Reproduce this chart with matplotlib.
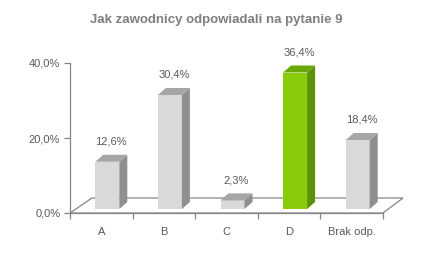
import matplotlib
matplotlib.use("Agg")
import matplotlib.pyplot as plt
from matplotlib.patches import Polygon

categories = ["A", "B", "C", "D", "Brak odp."]
values = [12.6, 30.4, 2.3, 36.4, 18.4]
value_labels = ["12,6%", "30,4%", "2,3%", "36,4%", "18,4%"]
y_ticks = [0, 20, 40]
y_tick_labels = ["0,0%", "20,0%", "40,0%"]
highlight = "D"

plt.rcParams['font.family'] = ['Liberation Sans', 'DejaVu Sans']

W, H = 433, 256
fig = plt.figure(figsize=(W / 100, H / 100), dpi=100)
fig.patch.set_facecolor("white")
ax = fig.add_axes([70 / W, (H - 213) / H, 313 / W, 150 / H])
ax.set_xlim(0, 5)
ax.set_ylim(0, 40)

px_x = 5 / 313.0    # data units per pixel (x)
px_y = 40 / 150.0   # data units per pixel (y)

# depth offsets
ddx, ddy = 8 * px_x, 7 * px_y
base = 4 * px_y
shift = 6 * px_x
bw = 24 * px_x

txt = "#595959"
line = "#868686"

# floor
floor = Polygon([(0, 0), (5, 0), (5 + 20 * px_x, 15 * px_y), (22 * px_x, 15 * px_y)],
                closed=True, facecolor="white", edgecolor=line, lw=0.9, clip_on=False, zorder=1)
ax.add_patch(floor)

xs = [i + 0.5 + shift for i in range(len(categories))]
colors_front = ["#88cc0a" if c == highlight else "#d9d9d9" for c in categories]
colors_side = ["#5e9206" if c == highlight else "#8f8f8f" for c in categories]
colors_top = ["#6aa808" if c == highlight else "#a6a6a6" for c in categories]

bars = ax.bar(xs, values, width=bw, bottom=base, color=colors_front, zorder=3, clip_on=False)
for b, v, cs, ct, lab in zip(bars, values, colors_side, colors_top, value_labels):
    x0 = b.get_x()
    x1 = x0 + b.get_width()
    y0 = b.get_y()
    y1 = y0 + b.get_height()
    side = Polygon([(x1, y0), (x1 + ddx, y0 + ddy), (x1 + ddx, y1 + ddy), (x1, y1)],
                   closed=True, facecolor=cs, edgecolor="none", zorder=3, clip_on=False)
    top = Polygon([(x0, y1), (x1, y1), (x1 + ddx, y1 + ddy), (x0 + ddx, y1 + ddy)],
                  closed=True, facecolor=ct, edgecolor="none", zorder=3, clip_on=False)
    ax.add_patch(side)
    ax.add_patch(top)
    ax.annotate(lab, ((x0 + x1) / 2 + ddx / 2, y1 + ddy), xytext=(0, 6),
                textcoords="offset points", ha="center", va="bottom",
                fontsize=8, color=txt, annotation_clip=False)

for s in ["top", "right", "bottom"]:
    ax.spines[s].set_visible(False)
ax.spines["left"].set_color(line)
ax.spines["left"].set_linewidth(0.9)
ax.set_yticks(y_ticks)
ax.set_yticklabels(y_tick_labels)
ax.tick_params(axis="y", colors=line, labelcolor=txt, labelsize=8, length=4, width=0.9, pad=3)

ax.set_xticks(range(6))
ax.set_xticklabels([])
ax.tick_params(axis="x", colors=line, length=4, width=0.9, direction="out")
ax.spines["bottom"].set_visible(True)
ax.spines["bottom"].set_color(line)
ax.spines["bottom"].set_linewidth(0.9)
for i, c in enumerate(categories):
    ax.text(i + 0.5, -19 * px_y, c, ha="center", va="center", fontsize=8, color=txt)

ax.patch.set_visible(False)

fig.text(216 / W, 1 - 20 / H, "Jak zawodnicy odpowiadali na pytanie 9", ha="center", va="center",
         fontsize=9.5, fontweight="bold", color="#7f7f7f")

fig.savefig("out.png", dpi=100)
